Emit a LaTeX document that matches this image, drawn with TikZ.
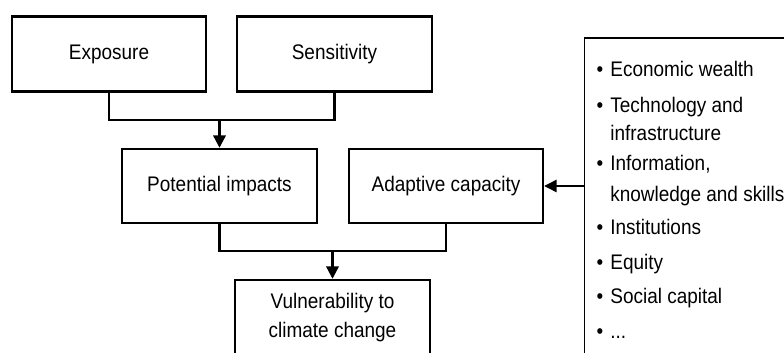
\documentclass[tikz,border=0pt]{standalone}
\usepackage{fontspec}
\setmainfont{Liberation Sans}[FakeStretch=0.9]
\usetikzlibrary{arrows.meta}
\newcommand\itembullet{\llap{\textbullet\hspace{4pt}}}
\tikzset{
  box/.style={draw,line width=1.4pt,minimum width=3.9cm,minimum height=1.5cm,align=center,inner sep=0pt},
  item/.style={anchor=base west,inner sep=0pt},
  link/.style={line width=1.3pt},
  arrowto/.style={-{Triangle[length=7pt,width=7pt]}}
}
\begin{document}
\begin{tikzpicture}[font=\fontsize{12}{16.5}\selectfont]
\useasboundingbox (0,0) rectangle (15.68,7.04);
\clip (0,0) rectangle (15.68,7.04);
\node[box,minimum width=3.88cm] (expo) at (2.18,5.96) {Exposure};
\node[box] (sens) at (6.69,5.96) {Sensitivity};
\node[box,minimum height=1.48cm] (pot) at (4.39,3.32) {Potential impacts};
\node[box,minimum width=3.88cm,minimum height=1.48cm] (adap) at (8.92,3.32) {Adaptive capacity};
\node[box] (vuln) at (6.65,0.69) {Vulnerability to\\climate change};
\node[box,line width=1.1pt,anchor=north west,minimum width=5cm,minimum height=7cm] (factors) at (11.67,6.30) {};
\node[item] (wealth) at (12.20,5.50) {\itembullet Economic wealth};
\node[item] (tech) at (12.20,4.78) {\itembullet Technology and};
\node[item] (techb) at (12.20,4.22) {infrastructure};
\node[item] (info) at (12.20,3.64) {\itembullet Information,};
\node[item] (infob) at (12.20,3.02) {knowledge and skills};
\node[item] (inst) at (12.20,2.36) {\itembullet Institutions};
\node[item] (equity) at (12.20,1.66) {\itembullet Equity};
\node[item] (social) at (12.20,0.98) {\itembullet Social capital};
\node[item] (more) at (12.20,0.28) {\itembullet ...};
\coordinate (join1) at (4.39,4.64);
\coordinate (join2) at (6.65,2.02);
\draw[link] (expo.south) |- (join1) -| (sens.south);
\draw[link,arrowto] (join1) -- (pot.north);
\draw[link] (pot.south) |- (join2) -| (adap.south);
\draw[link,arrowto] (join2) -- (vuln.north);
\draw[arrowto,line width=0.8pt] (factors.west |- adap.east) -- (adap.east);
\end{tikzpicture}
\end{document}
